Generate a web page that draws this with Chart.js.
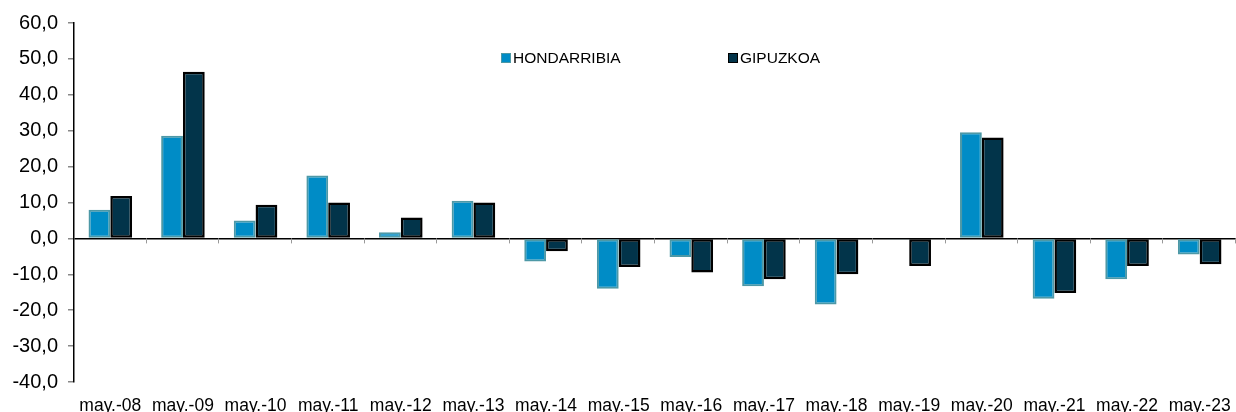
<!DOCTYPE html>
<html>
<head>
<meta charset="utf-8">
<script src="https://cdn.jsdelivr.net/npm/chart.js@4"></script>
<style>
  body { margin: 0; background: #fff; }
  #wrap { position: relative; width: 1236px; height: 412px; }
  #legend { position: absolute; top: 49px; left: 0; font-family: "Liberation Sans", Arial, sans-serif; font-size: 15.5px; color: #000; }
  .item { position: absolute; white-space: nowrap; display: flex; align-items: center; }
  .box { width: 10px; height: 10px; margin-right: 2px; box-sizing: border-box; }
</style>
</head>
<body>
<div id="wrap">
  <canvas id="chart" width="1236" height="412"></canvas>
  <div id="legend"></div>
</div>
<script>
const categories = ['may.-08', 'may.-09', 'may.-10', 'may.-11', 'may.-12', 'may.-13', 'may.-14', 'may.-15',
  'may.-16', 'may.-17', 'may.-18', 'may.-19', 'may.-20', 'may.-21', 'may.-22', 'may.-23'];
const hondarribia = [8.0, 28.6, 5.0, 17.5, 1.7, 10.5, -6.4, -14.0, -5.2, -13.3, -18.4, -0.3, 29.6, -16.8, -11.4, -4.5];
const gipuzkoa = [11.8, 46.4, 9.4, 10.0, 5.8, 10.0, -3.6, -8.0, -9.5, -11.4, -10.0, -7.7, 28.1, -15.2, -7.7, -7.2];
const yTicks = [-40, -30, -20, -10, 0, 10, 20, 30, 40, 50, 60];

// little tick marks hanging under the zero line, at category boundaries
const zeroTicks = {
  id: 'zeroTicks',
  afterDatasetsDraw(chart) {
    const x = chart.scales.x, y = chart.scales.y;
    const y0 = y.getPixelForValue(0);
    const c = chart.ctx;
    c.save();
    c.strokeStyle = '#999';
    c.lineWidth = 1;
    for (let i = 1; i <= categories.length; i++) {
      const px = Math.min(Math.round(x.getPixelForValue(i - 0.5)), chart.width) - 0.5;
      c.beginPath();
      c.moveTo(px, y0);
      c.lineTo(px, y0 + 5);
      c.stroke();
    }
    c.restore();
  }
};

const ctx = document.getElementById('chart').getContext('2d');
const chart = new Chart(ctx, {
  type: 'bar',
  data: {
    labels: categories,
    datasets: [{
      label: 'HONDARRIBIA',
      data: hondarribia,
      backgroundColor: '#008cc6',
      borderColor: '#4d98a6',
      borderWidth: 2,
      borderSkipped: false
    }, {
      label: 'GIPUZKOA',
      data: gipuzkoa,
      backgroundColor: '#02344a',
      borderColor: '#000000',
      borderWidth: 2.5,
      borderSkipped: false
    }]
  },
  options: {
    responsive: false,
    animation: false,
    layout: { padding: { top: 23, right: 0, left: 0, bottom: 0 } },
    datasets: { bar: { categoryPercentage: 0.6, barPercentage: 1.0 } },
    plugins: {
      legend: { display: false },
      tooltip: { enabled: false }
    },
    scales: {
      x: {
        offset: true,
        grid: { display: false, drawTicks: false },
        border: { display: false },
        ticks: {
          color: '#000',
          padding: 14,
          maxRotation: 0,
          autoSkip: false,
          font: { family: 'Liberation Sans', size: 17.5 }
        },
        afterFit(scale) {
          scale.height = 30;
          scale.paddingLeft = 0;
          scale.paddingRight = 0;
        }
      },
      y: {
        min: -40,
        max: 60,
        afterBuildTicks(scale) { scale.ticks = yTicks.map(v => ({ value: v })); },
        grid: {
          color: c => c.tick && c.tick.value === 0 ? '#000' : 'transparent',
          lineWidth: 1.5,
          tickColor: '#888',
          tickLength: 6
        },
        border: { display: true, color: '#000', width: 1.5 },
        ticks: {
          color: '#000',
          padding: 10,
          font: { family: 'Liberation Sans', size: 20 },
          callback: v => v.toFixed(1).replace('.', ',')
        },
        afterFit(scale) {
          scale.width = 74;
          scale.paddingTop = 0;
          scale.paddingBottom = 0;
        }
      }
    }
  },
  plugins: [zeroTicks]
});

// legend as html text, sitting inside the plot area
const legendLeft = [501, 728];
const legend = document.getElementById('legend');
chart.data.datasets.forEach((ds, i) => {
  const item = document.createElement('div');
  item.className = 'item';
  item.style.left = legendLeft[i] + 'px';
  const box = document.createElement('span');
  box.className = 'box';
  box.style.background = ds.backgroundColor;
  box.style.border = '1.5px solid ' + ds.borderColor;
  item.appendChild(box);
  item.appendChild(document.createTextNode(ds.label));
  legend.appendChild(item);
});
</script>
</body>
</html>
